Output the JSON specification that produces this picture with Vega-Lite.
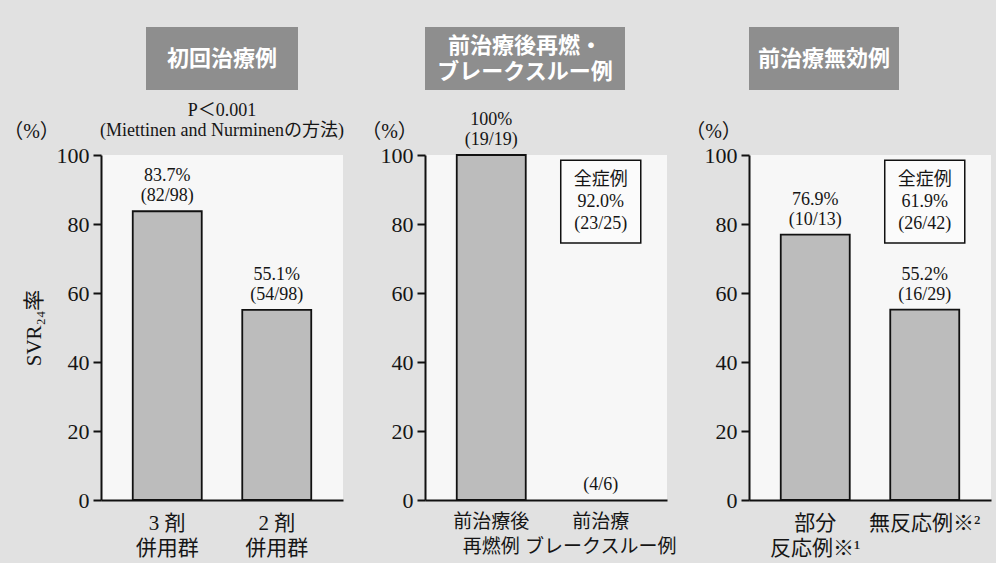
{
  "$schema": "https://vega.github.io/schema/vega-lite/v6.json",
  "background": "#e1e1e1",
  "padding": {"left": 2, "top": 27, "right": 5, "bottom": 5},
  "datasets": {
    "svr": [
      {"panel": "初回治療例", "group": "3 剤|併用群", "rate": 83.7, "pct": "83.7%", "frac": "(82/98)"},
      {"panel": "初回治療例", "group": "2 剤|併用群", "rate": 55.1, "pct": "55.1%", "frac": "(54/98)"},
      {"panel": "前治療後再燃・ブレークスルー例", "group": "前治療後|再燃例", "rate": 100, "pct": "100%", "frac": "(19/19)"},
      {"panel": "前治療後再燃・ブレークスルー例", "group": "前治療|ブレークスルー例", "rate": null, "pct": null, "frac": "(4/6)", "overall": ["全症例", "92.0%", "(23/25)"]},
      {"panel": "前治療無効例", "group": "部分|反応例※¹", "rate": 76.9, "pct": "76.9%", "frac": "(10/13)"},
      {"panel": "前治療無効例", "group": "無反応例※²", "rate": 55.2, "pct": "55.2%", "frac": "(16/29)", "overall": ["全症例", "61.9%", "(26/42)"]}
    ]
  },
  "columns": 3,
  "bounds": "flush",
  "align": "each",
  "center": true,
  "spacing": {"row": 65, "column": 82},
  "concat": [
    {
      "width": 152,
      "height": 63,
      "view": {"fill": "#8e8e8e", "stroke": null},
      "data": {"values": [{"name": "初回治療例"}]},
      "mark": {"type": "text", "color": "#ffffff", "fontSize": 22, "fontWeight": "bold", "font": "'Noto Sans CJK JP'"},
      "encoding": {"text": {"field": "name", "type": "nominal"}},
      "title": {
        "text": ["P＜0.001", "(Miettinen and Nurminenの方法)"],
        "orient": "bottom",
        "anchor": "middle",
        "offset": 12,
        "fontSize": 18,
        "lineHeight": 20
      }
    },
    {
      "width": 200,
      "height": 63,
      "view": {"fill": "#8e8e8e", "stroke": null},
      "data": {"values": [{"name": ["前治療後再燃・", "ブレークスルー例"]}]},
      "mark": {"type": "text", "color": "#ffffff", "fontSize": 22, "fontWeight": "bold", "font": "'Noto Sans CJK JP'", "lineHeight": 26, "dy": -13},
      "encoding": {"text": {"field": "name", "type": "nominal"}}
    },
    {
      "width": 150,
      "height": 63,
      "view": {"fill": "#8e8e8e", "stroke": null},
      "data": {"values": [{"name": "前治療無効例"}]},
      "mark": {"type": "text", "color": "#ffffff", "fontSize": 22, "fontWeight": "bold", "font": "'Noto Sans CJK JP'"},
      "encoding": {"text": {"field": "name", "type": "nominal"}}
    },
    {
      "width": 242,
      "height": 345,
      "view": {"fill": "#f7f7f7", "stroke": null},
      "data": {"name": "svr"},
      "transform": [{"filter": {"field": "panel", "equal": "初回治療例"}}],
      "encoding": {
        "x": {"field": "group", "type": "nominal", "title": null,
              "scale": {"domain": ["3 剤|併用群", "2 剤|併用群"], "paddingInner": 0.37, "paddingOuter": 0.29}}
      },
      "resolve": {"axis": {"y": "independent"}},
      "layer": [
        {
          "mark": {"type": "bar"},
          "encoding": {
            "y": {"field": "rate", "type": "quantitative", "scale": {"domain": [0, 100]},
                  "axis": {"values": [0, 20, 40, 60, 80, 100], "title": "SVR₂₄率", "titleAngle": -90, "titleBaseline": "bottom", "titleAlign": "center", "titleFontSize": 21, "titlePadding": 12}}
          }
        },
        {
          "mark": {"type": "text", "baseline": "bottom", "dy": -26},
          "encoding": {
            "y": {"field": "rate", "type": "quantitative",
                  "axis": {"orient": "left", "labels": false, "ticks": false, "domain": false, "title": "（%）", "titleAngle": 0, "titleAlign": "center", "titleBaseline": "middle", "titleFontSize": 20, "titleX": -70, "titleY": -24}},
            "text": {"field": "pct", "type": "nominal"}
          }
        },
        {
          "mark": {"type": "text", "baseline": "bottom", "dy": -6},
          "encoding": {
            "y": {"field": "rate", "type": "quantitative", "axis": null},
            "text": {"field": "frac", "type": "nominal"}
          }
        }
      ]
    },
    {
      "width": 242,
      "height": 345,
      "view": {"fill": "#f7f7f7", "stroke": null},
      "data": {"name": "svr"},
      "transform": [{"filter": {"field": "panel", "equal": "前治療後再燃・ブレークスルー例"}}],
      "encoding": {
        "x": {"field": "group", "type": "nominal", "title": null,
              "scale": {"domain": ["前治療後|再燃例", "前治療|ブレークスルー例"], "paddingInner": 0.37, "paddingOuter": 0.29},
              "axis": {"labelFontSize": 19}}
      },
      "layer": [
        {
          "mark": {"type": "bar"},
          "encoding": {
            "y": {"field": "rate", "type": "quantitative", "scale": {"domain": [0, 100]},
                  "axis": {"values": [0, 20, 40, 60, 80, 100], "title": "（%）", "titleAngle": 0, "titleAlign": "center", "titleBaseline": "middle", "titleFontSize": 20, "titleX": -36, "titleY": -24}}
          }
        },
        {
          "mark": {"type": "text", "baseline": "bottom", "dy": -26},
          "encoding": {"y": {"field": "rate", "type": "quantitative"}, "text": {"field": "pct", "type": "nominal"}}
        },
        {
          "mark": {"type": "text", "baseline": "bottom", "dy": -6},
          "encoding": {"y": {"field": "rate", "type": "quantitative"}, "text": {"field": "frac", "type": "nominal"}}
        },
        {
          "transform": [{"filter": "!isValid(datum.rate)"}],
          "mark": {"type": "text", "baseline": "bottom", "dy": -6},
          "encoding": {"y": {"datum": 0, "type": "quantitative"}, "text": {"field": "frac", "type": "nominal"}}
        },
        {
          "transform": [{"filter": "isValid(datum.overall)"}],
          "mark": {"type": "bar", "width": {"band": 1.16}, "fill": "#fbfbfb", "stroke": "#111111", "strokeWidth": 1.5},
          "encoding": {"y": {"datum": 98.5, "type": "quantitative"}, "y2": {"datum": 74.5}}
        },
        {
          "transform": [{"filter": "isValid(datum.overall)"}],
          "mark": {"type": "text", "baseline": "middle", "lineHeight": 22, "dy": -22},
          "encoding": {"y": {"datum": 86.5, "type": "quantitative"}, "text": {"field": "overall", "type": "nominal"}}
        }
      ]
    },
    {
      "width": 242,
      "height": 345,
      "view": {"fill": "#f7f7f7", "stroke": null},
      "data": {"name": "svr"},
      "transform": [{"filter": {"field": "panel", "equal": "前治療無効例"}}],
      "encoding": {
        "x": {"field": "group", "type": "nominal", "title": null,
              "scale": {"domain": ["部分|反応例※¹", "無反応例※²"], "paddingInner": 0.37, "paddingOuter": 0.29}}
      },
      "layer": [
        {
          "mark": {"type": "bar"},
          "encoding": {
            "y": {"field": "rate", "type": "quantitative", "scale": {"domain": [0, 100]},
                  "axis": {"values": [0, 20, 40, 60, 80, 100], "title": "（%）", "titleAngle": 0, "titleAlign": "center", "titleBaseline": "middle", "titleFontSize": 20, "titleX": -36, "titleY": -24}}
          }
        },
        {
          "mark": {"type": "text", "baseline": "bottom", "dy": -26},
          "encoding": {"y": {"field": "rate", "type": "quantitative"}, "text": {"field": "pct", "type": "nominal"}}
        },
        {
          "mark": {"type": "text", "baseline": "bottom", "dy": -6},
          "encoding": {"y": {"field": "rate", "type": "quantitative"}, "text": {"field": "frac", "type": "nominal"}}
        },
        {
          "transform": [{"filter": "isValid(datum.overall)"}],
          "mark": {"type": "bar", "width": {"band": 1.16}, "fill": "#fbfbfb", "stroke": "#111111", "strokeWidth": 1.5},
          "encoding": {"y": {"datum": 98.5, "type": "quantitative"}, "y2": {"datum": 74.5}}
        },
        {
          "transform": [{"filter": "isValid(datum.overall)"}],
          "mark": {"type": "text", "baseline": "middle", "lineHeight": 22, "dy": -22},
          "encoding": {"y": {"datum": 86.5, "type": "quantitative"}, "text": {"field": "overall", "type": "nominal"}}
        }
      ]
    }
  ],
  "config": {
    "font": "'Liberation Serif', 'Noto Sans CJK JP', serif",
    "view": {"stroke": null},
    "axis": {"grid": false, "domainColor": "#111111", "domainWidth": 2, "labelColor": "#151515", "titleColor": "#151515", "titleFontWeight": "normal"},
    "axisY": {"tickColor": "#111111", "tickWidth": 2, "tickSize": 8, "labelFontSize": 22, "labelPadding": 4},
    "axisX": {"ticks": false, "labelAngle": 0, "labelFontSize": 21, "labelPadding": 12, "labelLineHeight": 25, "labelBaseline": "top", "labelExpr": "split(datum.label, '|')", "labelOverlap": false, "labelBound": false, "labelFlush": false},
    "bar": {"fill": "#bcbcbc", "stroke": "#111111", "strokeWidth": 1.8},
    "text": {"fontSize": 18, "color": "#151515"},
    "title": {"fontWeight": "normal", "color": "#151515"}
  }
}
